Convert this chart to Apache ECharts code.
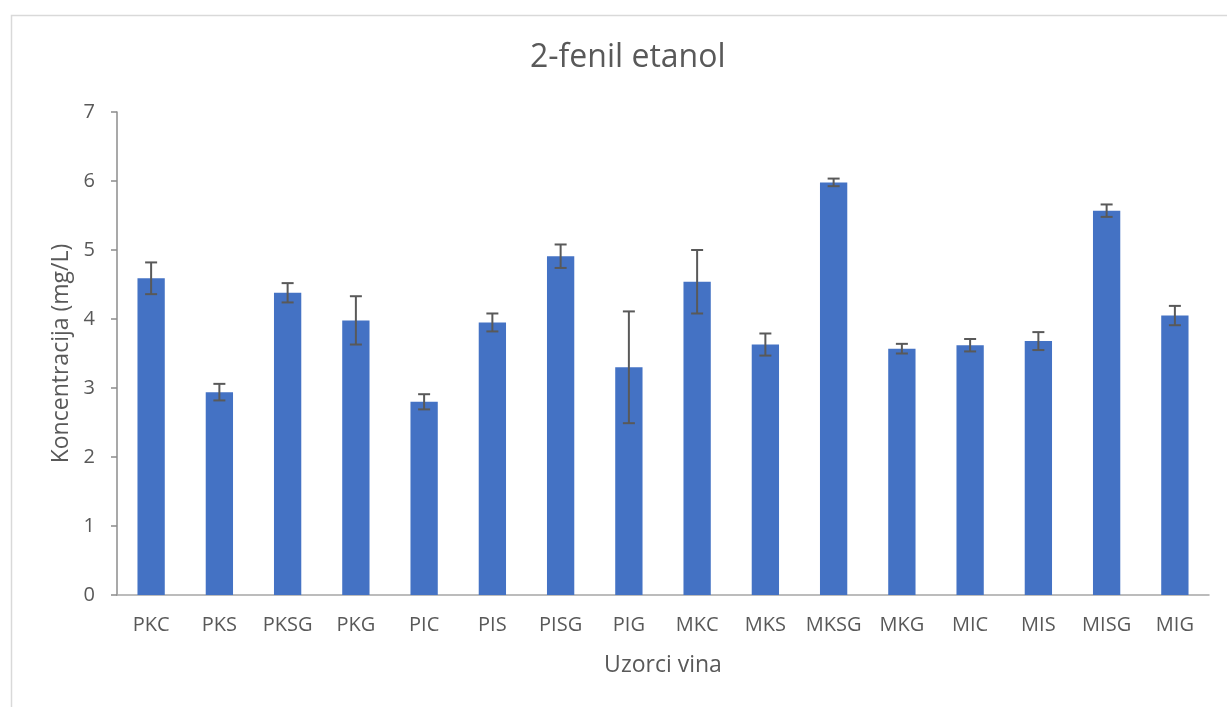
<!DOCTYPE html>
<html>
<head>
<meta charset="utf-8">
<script src="https://cdn.jsdelivr.net/npm/echarts@6/dist/echarts.min.js"></script>
<style>
html,body{margin:0;padding:0;background:#fff;}
#c{width:1227px;height:707px;}
</style>
</head>
<body>
<div id="c"></div>
<script>
const categories = ['PKC','PKS','PKSG','PKG','PIC','PIS','PISG','PIG','MKC','MKS','MKSG','MKG','MIC','MIS','MISG','MIG'];
const values =     [4.59, 2.94, 4.38, 3.98, 2.80, 3.95, 4.91, 3.30, 4.54, 3.63, 5.98, 3.57, 3.62, 3.68, 5.57, 4.05];
const errors =     [0.23, 0.12, 0.14, 0.35, 0.11, 0.13, 0.17, 0.81, 0.46, 0.16, 0.055, 0.07, 0.09, 0.13, 0.09, 0.14];
const yTicks = [0,1,2,3,4,5,6,7];
const titleText = '2-fenil etanol';
const xName = 'Uzorci vina';
const yName = 'Koncentracija (mg/L)';

const errData = categories.map((c, i) => [i, values[i] - errors[i], values[i] + errors[i]]);
const FONT = 'Open Sans';
const chart = echarts.init(document.getElementById('c'), null, {renderer: 'canvas'});
chart.setOption({
  animation: false,
  backgroundColor: '#fff',
  textStyle: {fontFamily: FONT},
  graphic: [{
    type: 'rect', left: 9, top: 13, z: -10, silent: true,
    shape: {width: 1400, height: 900},
    style: {fill: 'none', stroke: '#d9d9d9', lineWidth: 1.5}
  }],
  title: {
    text: titleText, left: 525, top: 37,
    textStyle: {fontFamily: FONT, fontSize: 32, fontWeight: 'normal', color: '#595959'}
  },
  grid: {left: 117, right: 18, top: 112, bottom: 112, containLabel: false},
  xAxis: {
    type: 'category', data: categories,
    name: xName, nameLocation: 'middle', nameGap: 59,
    nameTextStyle: {fontFamily: FONT, fontSize: 23, color: '#595959'},
    axisLine: {lineStyle: {color: '#a6a6a6', width: 1.5}},
    axisTick: {show: false},
    axisLabel: {interval: 0, fontFamily: FONT, fontSize: 20, color: '#595959', margin: 20}
  },
  yAxis: {
    type: 'value', min: 0, max: 7, interval: 1,
    name: yName, nameLocation: 'middle', nameGap: 44,
    nameTextStyle: {fontFamily: FONT, fontSize: 23, color: '#595959'},
    axisLine: {show: true, lineStyle: {color: '#8c8c8c', width: 1.5}},
    axisTick: {show: true, length: 6, lineStyle: {color: '#8c8c8c', width: 1.5}},
    splitLine: {show: false},
    axisLabel: {fontFamily: FONT, fontSize: 20, color: '#595959', margin: 22,
      formatter: v => yTicks.includes(v) ? String(v) : ''}
  },
  series: [{
    type: 'bar', data: values, barWidth: '40%',
    itemStyle: {color: '#4472C4'}
  }, {
    type: 'custom', data: errData, z: 10,
    renderItem: function (params, api) {
      const x = api.value(0);
      const lo = api.coord([x, api.value(1)]);
      const hi = api.coord([x, api.value(2)]);
      const hw = 6;
      const st = {stroke: '#595959', lineWidth: 2};
      return {type: 'group', children: [
        {type: 'line', shape: {x1: lo[0], y1: lo[1], x2: hi[0], y2: hi[1]}, style: st},
        {type: 'line', shape: {x1: lo[0]-hw, y1: lo[1], x2: lo[0]+hw, y2: lo[1]}, style: st},
        {type: 'line', shape: {x1: hi[0]-hw, y1: hi[1], x2: hi[0]+hw, y2: hi[1]}, style: st}
      ]};
    }
  }]
});
</script>
</body>
</html>
